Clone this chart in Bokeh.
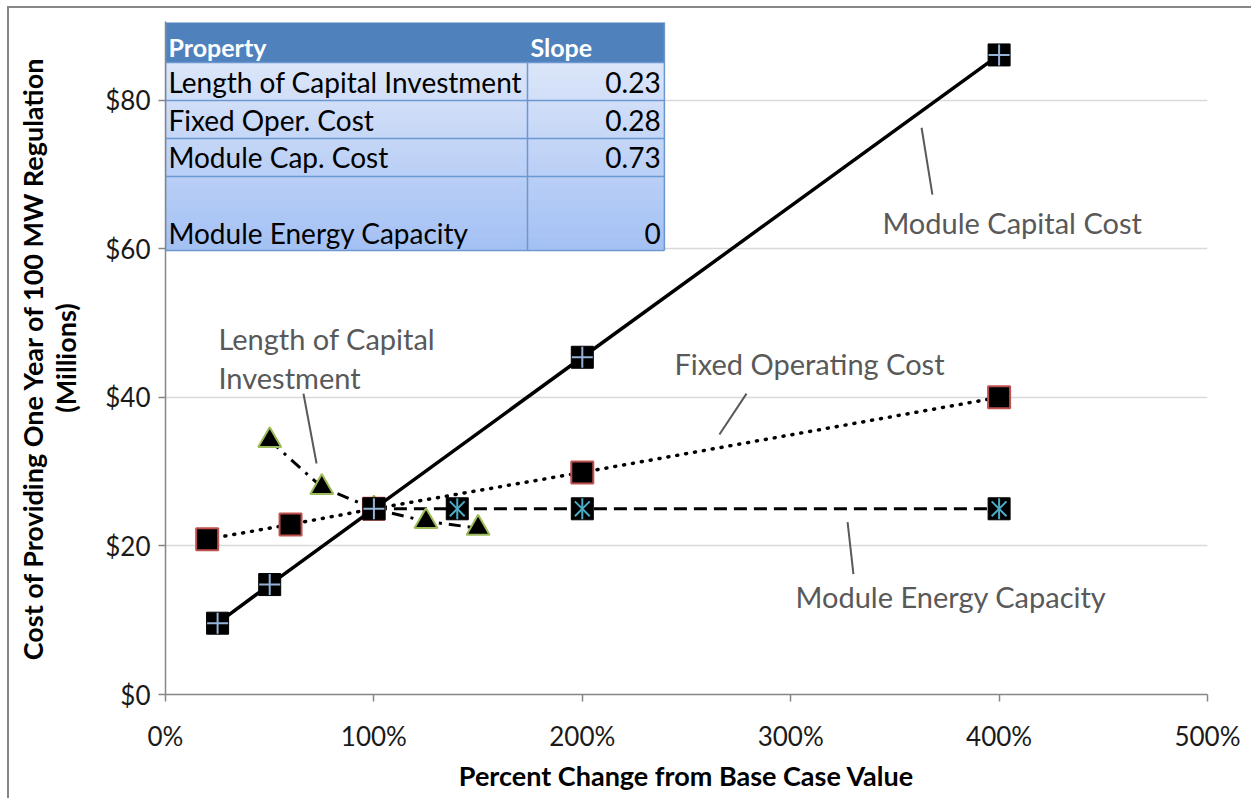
import math
from bokeh.plotting import figure
from bokeh.models import Range1d, Label
from bokeh.embed import file_html
from bokeh.resources import INLINE

# ---------------- data ----------------
cap_x = [25, 50, 100, 200, 400]
cap_y = [9.6, 14.8, 25.0, 45.4, 86.1]
fixed_x = [20, 60, 100, 200, 400]
fixed_y = [20.9, 22.9, 25.0, 29.9, 40.0]
length_x = [50, 75, 100, 125, 150]
length_y = [34.2, 27.9, 25.0, 23.3, 22.4]
energy_x = [100, 140, 200, 400]
energy_y = [25.0, 25.0, 25.0, 25.0]

table_header = ["Property", "Slope"]
table_props = ["Length of Capital Investment", "Fixed Oper. Cost", "Module Cap. Cost", "Module Energy Capacity"]
table_slopes = ["0.23", "0.28", "0.73", "0"]

x_ticks = [0, 100, 200, 300, 400, 500]
x_tick_labels = ["0%", "100%", "200%", "300%", "400%", "500%"]
y_ticks = [0, 20, 40, 60, 80]
y_tick_labels = ["$0", "$20", "$40", "$60", "$80"]

FONT = "Lato"
GRAY = "#595959"

p = figure(width=1244, height=792, x_range=Range1d(0, 500), y_range=Range1d(0, 90.6),
           output_backend="svg", toolbar_location=None,
           min_border_left=156, min_border_right=46, min_border_top=13, min_border_bottom=106)
p.styles = {"margin-left": "7px", "margin-top": "6px",
            "border-left": "2px solid #878787", "border-top": "2px solid #878787"}
p.outline_line_color = None
p.background_fill_color = "white"

# axes
p.xaxis.ticker = x_ticks
p.xaxis.major_label_overrides = dict(zip(x_ticks, x_tick_labels))
p.yaxis.ticker = y_ticks
p.yaxis.major_label_overrides = dict(zip(y_ticks, y_tick_labels))
for ax in (p.xaxis, p.yaxis):
    ax.axis_line_color = "#868686"
    ax.axis_line_width = 1.5
    ax.major_tick_line_color = "#868686"
    ax.major_tick_line_width = 1.5
    ax.major_tick_out = 7
    ax.major_tick_in = 0
    ax.minor_tick_line_color = None
    ax.major_label_text_font = FONT
    ax.major_label_text_font_size = "26px"
    ax.major_label_text_color = "#1a1a1a"
    ax.axis_label_text_font = FONT
    ax.axis_label_text_font_style = "bold"
    ax.axis_label_text_font_size = "27px"
    ax.axis_label_text_color = "black"
    ax.axis_label_text_line_height = 1.0
p.xaxis.major_label_standoff = 18
p.yaxis.major_label_standoff = 8
p.xaxis.axis_label = "Percent Change from Base Case Value"
p.xaxis.axis_label_standoff = 4
p.yaxis.axis_label = "Cost of Providing One Year of 100 MW Regulation\n(Millions)"
p.yaxis.axis_label_standoff = 20
p.xgrid.visible = False
p.ygrid.grid_line_color = "#D9D9D9"
p.ygrid.grid_line_width = 1.5

# ---------------- series ----------------
# Module Energy Capacity (dashed)
p.line(energy_x, energy_y, line_color="black", line_width=3, line_dash="13 7")
p.scatter(energy_x, energy_y, marker="square", size=22, fill_color="black", line_color="black", line_width=1)
p.scatter(energy_x, energy_y, marker="x", size=21, line_color="#4BACC6", line_width=2)
p.scatter(energy_x, energy_y, marker="dash", size=21, angle=math.pi / 2, line_color="#4BACC6", line_width=2)

# Length of Capital Investment (dash-dot)
p.line(length_x, length_y, line_color="black", line_width=3, line_dash="12 7 3 7")
p.scatter(length_x, length_y, marker="triangle", size=23, fill_color="black", line_color="#9BBB59", line_width=2)

# Fixed Operating Cost (dotted)
p.line(fixed_x, fixed_y, line_color="black", line_width=3.5, line_dash="1 8", line_cap="round")
p.scatter(fixed_x, fixed_y, marker="square", size=22, fill_color="black", line_color="#C0504D", line_width=2)

# Module Capital Cost (solid)
p.line(cap_x, cap_y, line_color="black", line_width=3.5)
p.scatter(cap_x, cap_y, marker="square", size=22, fill_color="black", line_color="black", line_width=1)
p.scatter(cap_x, cap_y, marker="cross", size=21, line_color="#95B3D7", line_width=2)

# ---------------- annotations ----------------
lead_x0 = [362.8, 278.8, 66.2, 327.3]
lead_y0 = [76.3, 40.5, 40.5, 23.2]
lead_x1 = [368.0, 265.8, 72.5, 330.1]
lead_y1 = [67.3, 35.0, 31.1, 16.2]
p.segment(lead_x0, lead_y0, lead_x1, lead_y1, line_color=GRAY, line_width=2)

ann = [
    ("Module Capital Cost", 344.0, 63.5),
    ("Fixed Operating Cost", 244.2, 44.6),
    ("Length of Capital", 25.4, 47.9),
    ("Investment", 25.4, 42.7),
    ("Module Energy Capacity", 302.3, 13.2),
]
for t, x, y in ann:
    p.add_layout(Label(x=x, y=y, text=t, text_font=FONT, text_font_size="29px",
                       text_color=GRAY, text_baseline="middle", text_align="left"))

# ---------------- table ----------------
tx0, tx_mid, tx1 = 0.0, 173.7, 239.4
ty_top, ty_head, ty_bot = 90.47, 85.08, 59.77
row_bounds = [85.08, 79.97, 74.85, 69.74, 59.77]

# gradient body
n = 30
c0 = (0xDC, 0xE6, 0xF9)
c1 = (0xA3, 0xC0, 0xF4)
tops, bots, cols = [], [], []
for i in range(n):
    a = ty_head - (ty_head - ty_bot) * i / n
    b = ty_head - (ty_head - ty_bot) * (i + 1) / n
    f = (i + 0.5) / n
    c = tuple(int(round(c0[k] + (c1[k] - c0[k]) * f)) for k in range(3))
    tops.append(a); bots.append(max(b - 0.15, ty_bot)); cols.append("#%02x%02x%02x" % c)
p.quad(left=tx0, right=tx1, top=tops, bottom=bots, fill_color=cols, line_color=None)
# header
p.quad(left=[tx0], right=[tx1], top=[ty_top], bottom=[ty_head], fill_color="#4F81BD", line_color=None)
# cell borders
seg_x0 = [tx0] * len(row_bounds) + [tx_mid, tx0, tx1]
seg_x1 = [tx1] * len(row_bounds) + [tx_mid, tx0, tx1]
seg_y0 = row_bounds + [ty_head, ty_top, ty_top]
seg_y1 = row_bounds + [ty_bot, ty_bot, ty_bot]
p.segment(seg_x0, seg_y0, seg_x1, seg_y1, line_color="#6C98D2", line_width=1.5)

p.add_layout(Label(x=1.4, y=87.1, text=table_header[0], text_font=FONT, text_font_size="25px",
                   text_font_style="bold", text_color="white", text_baseline="middle"))
p.add_layout(Label(x=175.1, y=87.1, text=table_header[1], text_font=FONT, text_font_size="25px",
                   text_font_style="bold", text_color="white", text_baseline="middle"))
row_text_y = [82.4, 77.3, 72.3, 62.1]
for name, slope, y in zip(table_props, table_slopes, row_text_y):
    p.add_layout(Label(x=1.4, y=y, text=name, text_font=FONT, text_font_size="28px",
                       text_color="black", text_baseline="middle"))
    p.add_layout(Label(x=237.6, y=y, text=slope, text_font=FONT, text_font_size="28px",
                       text_color="black", text_baseline="middle", text_align="right"))

open("out.html", "w").write(file_html(p, INLINE))
